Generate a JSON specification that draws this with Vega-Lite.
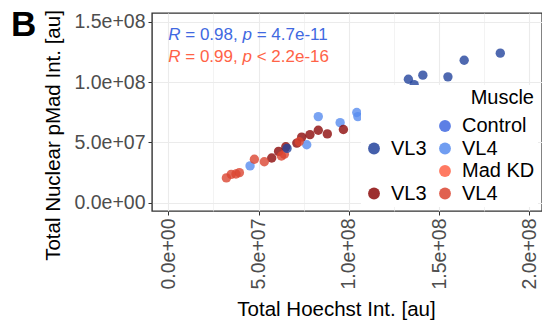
{
  "$schema": "https://vega.github.io/schema/vega-lite/v6.json",
  "width": 542,
  "height": 324,
  "autosize": {"type": "fit", "contains": "padding"},
  "padding": {"left": 10, "top": 7, "right": 0, "bottom": 4},
  "background": "white",
  "config": {
    "font": "Liberation Sans",
    "view": {"stroke": "#333333", "strokeWidth": 1.4},
    "axis": {
      "domain": false,
      "labelFont": "Liberation Sans",
      "titleFont": "Liberation Sans",
      "labelFontSize": 19.5,
      "labelColor": "#4D4D4D",
      "titleFontSize": 20.5,
      "titleFontWeight": "normal",
      "titleColor": "#000000",
      "tickColor": "#333333",
      "tickSize": 4,
      "tickWidth": 1,
      "gridColor": "#EBEBEB",
      "labelOverlap": false,
      "labelFlush": false
    }
  },
  "title": {
    "text": "B",
    "anchor": "start",
    "frame": "bounds",
    "fontSize": 35,
    "fontWeight": "bold",
    "color": "#000000",
    "offset": -33,
    "dx": -33
  },
  "datasets": {
    "stats": [
      {"r": "R", "mid": "= 0.98,", "p": "p", "tail": "= 4.7e-11", "hoechst": 0, "pmad": 139000000, "muscle": "Control"},
      {"r": "R", "mid": "= 0.99,", "p": "p", "tail": "< 2.2e-16", "hoechst": 0, "pmad": 120600000, "muscle": "Mad KD"}
    ]
  },
  "layer": [
    {
      "data": {
        "values": [
          {"muscle": "Control VL3", "hoechst": 183900000, "pmad": 123900000},
          {"muscle": "Control VL3", "hoechst": 163900000, "pmad": 118000000},
          {"muscle": "Control VL3", "hoechst": 154900000, "pmad": 104300000},
          {"muscle": "Control VL3", "hoechst": 141000000, "pmad": 105700000},
          {"muscle": "Control VL3", "hoechst": 133000000, "pmad": 102300000},
          {"muscle": "Control VL3", "hoechst": 136200000, "pmad": 97800000},
          {"muscle": "Control VL3", "hoechst": 114600000, "pmad": 75300000},
          {"muscle": "Control VL4", "hoechst": 123300000, "pmad": 84600000},
          {"muscle": "Control VL4", "hoechst": 104400000, "pmad": 74800000},
          {"muscle": "Control VL4", "hoechst": 105000000, "pmad": 71400000},
          {"muscle": "Control VL4", "hoechst": 95200000, "pmad": 66400000},
          {"muscle": "Control VL4", "hoechst": 83100000, "pmad": 71400000},
          {"muscle": "Control VL4", "hoechst": 76700000, "pmad": 48100000},
          {"muscle": "Control VL4", "hoechst": 45300000, "pmad": 30600000},
          {"muscle": "Mad KD VL3", "hoechst": 110000000, "pmad": 79800000},
          {"muscle": "Mad KD VL3", "hoechst": 116800000, "pmad": 77000000},
          {"muscle": "Mad KD VL3", "hoechst": 97000000, "pmad": 60700000},
          {"muscle": "Mad KD VL3", "hoechst": 88100000, "pmad": 57100000},
          {"muscle": "Mad KD VL3", "hoechst": 83100000, "pmad": 60100000},
          {"muscle": "Mad KD VL3", "hoechst": 78500000, "pmad": 56500000},
          {"muscle": "Mad KD VL3", "hoechst": 73900000, "pmad": 54400000},
          {"muscle": "Mad KD VL3", "hoechst": 71200000, "pmad": 49500000},
          {"muscle": "Mad KD VL3", "hoechst": 65100000, "pmad": 46400000},
          {"muscle": "Mad KD VL3", "hoechst": 61100000, "pmad": 42600000},
          {"muscle": "Mad KD VL3", "hoechst": 57300000, "pmad": 37100000},
          {"muscle": "Mad KD VL4", "hoechst": 72500000, "pmad": 50600000},
          {"muscle": "Mad KD VL4", "hoechst": 64300000, "pmad": 40200000},
          {"muscle": "Mad KD VL4", "hoechst": 62700000, "pmad": 38800000},
          {"muscle": "Mad KD VL4", "hoechst": 53200000, "pmad": 34000000},
          {"muscle": "Mad KD VL4", "hoechst": 47700000, "pmad": 36100000},
          {"muscle": "Mad KD VL4", "hoechst": 39400000, "pmad": 25000000},
          {"muscle": "Mad KD VL4", "hoechst": 37500000, "pmad": 23900000},
          {"muscle": "Mad KD VL4", "hoechst": 34900000, "pmad": 23600000},
          {"muscle": "Mad KD VL4", "hoechst": 32200000, "pmad": 20700000},
          {"muscle": "Control VL3", "hoechst": 65800000, "pmad": 45100000}
        ]
      },
      "mark": {"type": "circle", "size": 88, "opacity": 0.8},
      "encoding": {
        "x": {
          "field": "hoechst",
          "type": "quantitative",
          "scale": {"domain": [-9000000, 207000000], "nice": false, "zero": false},
          "axis": {
            "title": "Total Hoechst Int. [au]",
            "values": [0, 25000000, 50000000, 75000000, 100000000, 125000000, 150000000, 175000000, 200000000],
            "labelAngle": 270,
            "labelPadding": 3,
            "titlePadding": 10,
            "titleX": 184,
            "labelExpr": "datum.value % 50000000 == 0 ? slice(format(datum.value, '.1e'), 0, -1) + '0' + slice(format(datum.value, '.1e'), -1) : ''",
            "tickOpacity": {"condition": {"test": "datum.value % 50000000 != 0", "value": 0}, "value": 1},
            "gridWidth": {"condition": {"test": "datum.value % 50000000 != 0", "value": 0.6}, "value": 1.1}
          }
        },
        "y": {
          "field": "pmad",
          "type": "quantitative",
          "scale": {"domain": [-6700000, 157100000], "nice": false, "zero": false},
          "axis": {
            "title": "Total Nuclear pMad Int. [au]",
            "values": [0, 25000000, 50000000, 75000000, 100000000, 125000000, 150000000],
            "labelPadding": 3,
            "titlePadding": 10,
            "titleY": 122,
            "labelExpr": "datum.value % 50000000 == 0 ? slice(format(datum.value, '.1e'), 0, -1) + '0' + slice(format(datum.value, '.1e'), -1) : ''",
            "tickOpacity": {"condition": {"test": "datum.value % 50000000 != 0", "value": 0}, "value": 1},
            "gridWidth": {"condition": {"test": "datum.value % 50000000 != 0", "value": 0.6}, "value": 1.1}
          }
        },
        "color": {
          "field": "muscle",
          "type": "nominal",
          "scale": {
            "domain": ["b1", "Control VL3", "b2", "Mad KD VL3", "Control", "Control VL4", "Mad KD", "Mad KD VL4"],
            "range": ["transparent", "#23439C", "transparent", "#8C0909", "#4169E1", "#578CEF", "#FF6347", "#DB4531"]
          },
          "legend": {
            "title": "Muscle",
            "orient": "bottom-right",
            "columns": 2,
            "titleAnchor": "end",
            "titleFontSize": 20,
            "titleFontWeight": "normal",
            "titleColor": "#000000",
            "titlePadding": 8,
            "labelFontSize": 20,
            "labelColor": "#000000",
            "symbolType": "circle",
            "symbolSize": 140,
            "symbolOpacity": 0.85,
            "symbolStrokeWidth": 0,
            "rowPadding": 2.5,
            "columnPadding": 8,
            "labelOffset": 7,
            "fillColor": "white",
            "padding": 3,
            "offset": 4,
            "labelExpr": "datum.label == 'b1' || datum.label == 'b2' ? ' ' : indexof(datum.label, 'VL3') >= 0 ? 'VL3' : indexof(datum.label, 'VL4') >= 0 ? 'VL4' : datum.label"
          }
        }
      }
    },
    {
      "data": {"name": "stats"},
      "mark": {"type": "text", "align": "left", "baseline": "middle", "fontSize": 17, "fontStyle": "italic", "font": "Liberation Sans"},
      "encoding": {
        "x": {"field": "hoechst", "type": "quantitative"},
        "y": {"field": "pmad", "type": "quantitative"},
        "text": {"field": "r"},
        "color": {"field": "muscle", "type": "nominal"}
      }
    },
    {
      "data": {"name": "stats"},
      "mark": {"type": "text", "align": "left", "baseline": "middle", "fontSize": 17, "dx": 17, "font": "Liberation Sans"},
      "encoding": {
        "x": {"field": "hoechst", "type": "quantitative"},
        "y": {"field": "pmad", "type": "quantitative"},
        "text": {"field": "mid"},
        "color": {"field": "muscle", "type": "nominal"}
      }
    },
    {
      "data": {"name": "stats"},
      "mark": {"type": "text", "align": "left", "baseline": "middle", "fontSize": 17, "fontStyle": "italic", "dx": 74.2, "font": "Liberation Sans"},
      "encoding": {
        "x": {"field": "hoechst", "type": "quantitative"},
        "y": {"field": "pmad", "type": "quantitative"},
        "text": {"field": "p"},
        "color": {"field": "muscle", "type": "nominal"}
      }
    },
    {
      "data": {"name": "stats"},
      "mark": {"type": "text", "align": "left", "baseline": "middle", "fontSize": 17, "dx": 88.4, "font": "Liberation Sans"},
      "encoding": {
        "x": {"field": "hoechst", "type": "quantitative"},
        "y": {"field": "pmad", "type": "quantitative"},
        "text": {"field": "tail"},
        "color": {"field": "muscle", "type": "nominal"}
      }
    }
  ]
}
